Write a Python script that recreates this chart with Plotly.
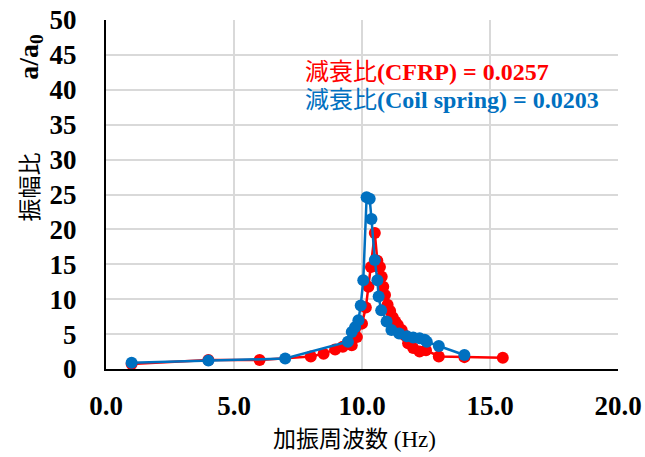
import plotly.graph_objects as go

# CFRP (red)
cfrp_x = [1.0, 4.0, 6.0, 8.0, 8.5, 8.95, 9.25, 9.6, 9.8, 10.0, 10.15, 10.25, 10.35, 10.5,
          10.6, 10.7, 10.77, 10.83, 10.9, 11.0, 11.1, 11.2, 11.3, 11.4, 11.55, 11.68, 11.8,
          12.0, 12.25, 12.5, 13.0, 14.0, 15.5]
cfrp_y = [0.7, 1.3, 1.3, 1.8, 2.2, 2.8, 3.2, 3.4, 4.6, 6.5, 8.8, 11.8, 14.6, 19.5,
          15.5, 14.6, 13.2, 11.8, 10.6, 9.2, 8.3, 7.4, 6.8, 6.3, 5.6, 4.8, 3.7,
          3.0, 2.5, 2.7, 1.8, 1.7, 1.6]

# Coil spring (blue)
coil_x = [1.0, 4.0, 7.0, 9.45, 9.6, 9.73, 9.86, 9.95, 10.05, 10.18, 10.3, 10.37, 10.5,
          10.6, 10.65, 10.75, 10.96, 11.15, 11.45, 11.75, 12.0, 12.25, 12.45, 12.53,
          13.0, 14.0]
coil_y = [0.9, 1.2, 1.5, 3.9, 5.3, 6.0, 7.0, 9.1, 12.7, 24.6, 24.4, 21.5, 15.6,
          12.7, 10.4, 8.4, 6.8, 5.6, 5.1, 4.7, 4.5, 4.4, 4.2, 3.9,
          3.3, 2.0]

x_ticks = [0, 5, 10, 15, 20]
x_tick_labels = ["0.0", "5.0", "10.0", "15.0", "20.0"]
y_ticks = [0, 5, 10, 15, 20, 25, 30, 35, 40, 45, 50]

RED = "#FF0000"
BLUE = "#0070C0"
FONT = "Liberation Serif, Noto Sans CJK JP"

fig = go.Figure()
fig.add_trace(go.Scatter(x=cfrp_x, y=cfrp_y, mode="lines+markers",
                         line=dict(color=RED, width=2.5),
                         marker=dict(color=RED, size=12), showlegend=False))
fig.add_trace(go.Scatter(x=coil_x, y=coil_y, mode="lines+markers",
                         line=dict(color=BLUE, width=2.5),
                         marker=dict(color=BLUE, size=12), showlegend=False))

fig.update_layout(
    width=645, height=457,
    margin=dict(l=106, r=27, t=20, b=88),
    paper_bgcolor="white", plot_bgcolor="white",
    font=dict(family=FONT, color="black"),
    xaxis=dict(range=[0, 20], tickvals=x_ticks, ticktext=x_tick_labels,
               automargin=False,
               showgrid=True, gridcolor="#D9D9D9", gridwidth=2,
               showline=True, linecolor="black", linewidth=2,
               zeroline=False, ticks="", ticklabelstandoff=12,
               tickfont=dict(family="Liberation Serif", size=27, color="black", weight="bold")),
    yaxis=dict(range=[0, 50], tickvals=y_ticks,
               automargin=False,
               showgrid=True, gridcolor="#D9D9D9", gridwidth=2,
               showline=True, linecolor="black", linewidth=2,
               zeroline=False, ticks="", ticklabelstandoff=22,
               tickfont=dict(family="Liberation Serif", size=27, color="black", weight="bold")),
    annotations=[
        dict(text="減衰比<b>(CFRP) = 0.0257</b>", xref="paper", yref="paper",
             x=0.385, y=0.851, xanchor="left", yanchor="middle", showarrow=False,
             font=dict(family=FONT, size=24, color=RED)),
        dict(text="減衰比<b>(Coil spring) = 0.0203</b>", xref="paper", yref="paper",
             x=0.385, y=0.771, xanchor="left", yanchor="middle", showarrow=False,
             font=dict(family=FONT, size=24, color=BLUE)),
        dict(text="加振周波数 (Hz)", xref="paper", yref="paper",
             x=0.486, y=-0.203, xanchor="center", yanchor="middle", showarrow=False,
             font=dict(family=FONT, size=23, color="black")),
        dict(text="振幅比", xref="paper", yref="paper", textangle=-90,
             x=-0.148, y=0.521, xanchor="center", yanchor="middle", showarrow=False,
             font=dict(family=FONT, size=23, color="black")),
        dict(text="<b>a/a<sub>0</sub></b>", xref="paper", yref="paper", textangle=-90,
             x=-0.148, y=0.895, xanchor="center", yanchor="middle", showarrow=False,
             font=dict(family="Liberation Serif", size=28, color="black")),
    ],
)

fig.write_html("out.html", config={"displayModeBar": False},
               post_script="document.body.style.margin='0';document.body.style.overflow='hidden';")
